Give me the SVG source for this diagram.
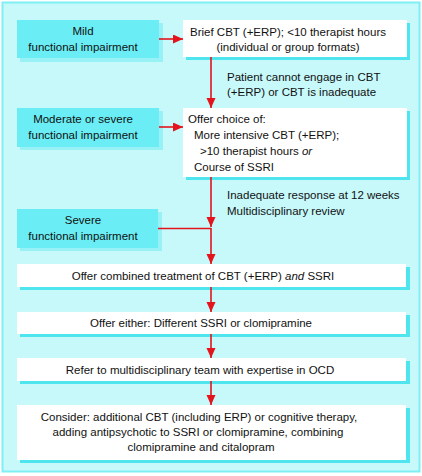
<svg xmlns="http://www.w3.org/2000/svg" width="422" height="476" viewBox="0 0 422 476">
<style>
text{font-family:"Liberation Sans",Arial,sans-serif;font-size:11.5px;fill:#111}
.c{text-anchor:middle}
.lb{fill:#6aedf4}
.lbs{fill:#98f1f5}
.wb{fill:#ffffff}
.ws{fill:#4fe5ee}
.ln{stroke:#e3141c;stroke-width:1.6;fill:none}
</style>
<defs>
<marker id="ah" markerUnits="userSpaceOnUse" markerWidth="10" markerHeight="10" refX="10" refY="4.5" orient="auto">
<path d="M0,0 L10,4.5 L0,9 z" fill="#e3141c"/>
</marker>
</defs>
<rect x="0" y="0" width="422" height="476" fill="#ffffff"/>
<rect x="2.5" y="2.5" width="417" height="469" fill="#c7f9fb" stroke="#7feff4" stroke-width="2"/>

<g id="mild">
<rect class="lbs" x="20" y="23" width="143" height="39"/>
<rect class="lb" x="17" y="20" width="142" height="38"/>
<text class="c" x="83" y="35">Mild</text>
<text class="c" x="83" y="51">functional impairment</text>
</g>
<g id="brief">
<rect class="ws" x="186" y="23" width="224" height="37"/>
<rect class="wb" x="183" y="20" width="224" height="37"/>
<text class="c" x="288" y="36">Brief CBT (+ERP); &lt;10 therapist hours</text>
<text class="c" x="288" y="51">(individual or group formats)</text>
</g>
<g id="cannot">
<text x="227" y="81">Patient cannot engage in CBT</text>
<text x="227" y="96">(+ERP) or CBT is inadequate</text>
</g>
<g id="moderate">
<rect class="lbs" x="20" y="111" width="143" height="39"/>
<rect class="lb" x="17" y="108" width="142" height="39"/>
<text class="c" x="83" y="123">Moderate or severe</text>
<text class="c" x="83" y="139">functional impairment</text>
</g>
<g id="offerchoice">
<rect class="ws" x="186" y="111" width="224" height="69"/>
<rect class="wb" x="183" y="108" width="224" height="69"/>
<text x="188" y="123">Offer choice of:</text>
<text x="194" y="139">More intensive CBT (+ERP);</text>
<text x="200" y="155">&gt;10 therapist hours <tspan font-style="italic">or</tspan></text>
<text x="194" y="171">Course of SSRI</text>
</g>
<g id="inadequate">
<text x="227" y="199">Inadequate response at 12 weeks</text>
<text x="227" y="215">Multidisciplinary review</text>
</g>
<g id="severe">
<rect class="lbs" x="20" y="212" width="142" height="39"/>
<rect class="lb" x="17" y="209" width="141" height="39"/>
<text class="c" x="83" y="224">Severe</text>
<text class="c" x="83" y="240">functional impairment</text>
</g>
<g id="combined">
<rect class="ws" x="20" y="267" width="390" height="23"/>
<rect class="wb" x="17" y="264" width="389" height="23"/>
<text class="c" x="203" y="280">Offer combined treatment of CBT (+ERP) <tspan font-style="italic">and</tspan> SSRI</text>
</g>
<g id="either">
<rect class="ws" x="20" y="315" width="390" height="22"/>
<rect class="wb" x="17" y="312" width="389" height="22"/>
<text class="c" x="201" y="327">Offer either: Different SSRI or clomipramine</text>
</g>
<g id="refer">
<rect class="ws" x="20" y="361" width="390" height="23"/>
<rect class="wb" x="17" y="358" width="389" height="23"/>
<text class="c" x="200" y="374">Refer to multidisciplinary team with expertise in OCD</text>
</g>
<g id="consider">
<rect class="ws" x="20" y="408" width="390" height="55"/>
<rect class="wb" x="17" y="405" width="389" height="55"/>
<text class="c" x="199" y="421">Consider: additional CBT (including ERP) or cognitive therapy,</text>
<text class="c" x="198" y="436">adding antipsychotic to SSRI or clomipramine, combining</text>
<text class="c" x="201" y="451">clomipramine and citalopram</text>
</g>

<g id="connectors">
<path class="ln" d="M159,39 H183" marker-end="url(#ah)"/>
<path class="ln" d="M159,127 H183" marker-end="url(#ah)"/>
<path class="ln" d="M211,57 V108" marker-end="url(#ah)"/>
<path class="ln" d="M211,177 V227" marker-end="url(#ah)"/>
<path class="ln" d="M158,228.5 H211"/>
<path class="ln" d="M211,228 V264" marker-end="url(#ah)"/>
<path class="ln" d="M211,287 V312" marker-end="url(#ah)"/>
<path class="ln" d="M211,334 V358" marker-end="url(#ah)"/>
<path class="ln" d="M211,381 V405" marker-end="url(#ah)"/>
</g>
</svg>
